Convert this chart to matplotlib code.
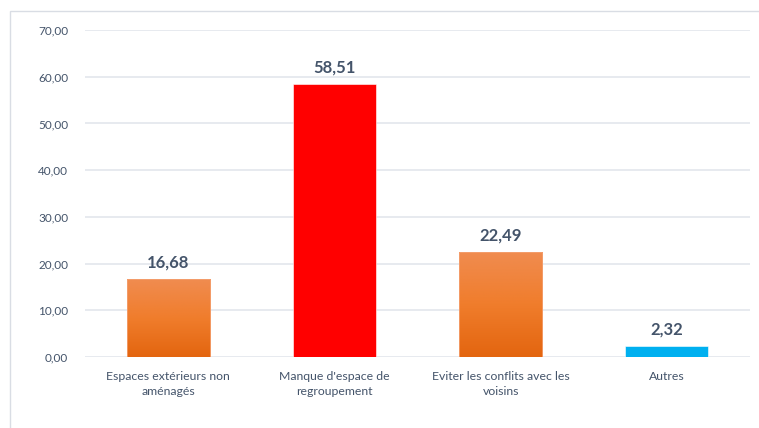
import numpy as np
import matplotlib
matplotlib.use("Agg")
import matplotlib.pyplot as plt
from matplotlib.colors import LinearSegmentedColormap
from matplotlib.patches import Rectangle

categories = ["Espaces extérieurs non\naménagés",
              "Manque d'espace de\nregroupement",
              "Eviter les conflits avec les\nvoisins",
              "Autres"]
values = [16.68, 58.51, 22.49, 2.32]
value_labels = ["16,68", "58,51", "22,49", "2,32"]
y_ticks = [0, 10, 20, 30, 40, 50, 60, 70]
y_tick_labels = ["0,00", "10,00", "20,00", "30,00", "40,00", "50,00", "60,00", "70,00"]

plt.rcParams['font.family'] = ['Lato', 'DejaVu Sans']
text_color = "#44546A"
grid_color = "#E3E6EC"

fig = plt.figure(figsize=(7.59, 4.28), dpi=100)
fig.patch.set_facecolor("white")

# chart frame
fig.add_artist(Rectangle((10 / 759, -0.05), 1.1, (428 - 11) / 428 + 0.05,
                         transform=fig.transFigure, fill=False,
                         edgecolor="#D9DDE4", linewidth=1.0))

ax = fig.add_axes([85 / 759, (428 - 357) / 428, (750 - 85) / 759, (357 - 30) / 428])
x = np.arange(len(categories))
width = 0.5

styles = ["grad", "#FF0000", "grad", "#00B0F0"]
orange = LinearSegmentedColormap.from_list("orange", ["#E3650F", "#F07D2C", "#F08C50"])
grad = np.linspace(0, 1, 256).reshape(-1, 1)

bars = ax.bar(x, values, width=width, zorder=3)
for bar, style in zip(bars, styles):
    if style == "grad":
        bar.set_facecolor("none")
        bar.set_edgecolor("#F4A070")
        bar.set_linewidth(0.6)
        x0, w, h = bar.get_x(), bar.get_width(), bar.get_height()
        im = ax.imshow(grad, cmap=orange, origin="lower", aspect="auto",
                       extent=(x0, x0 + w, 0, h), zorder=2.5)
        im.set_clip_path(bar)
    else:
        bar.set_facecolor(style)
        bar.set_edgecolor("#FFFFFF")
        bar.set_linewidth(0.4)

for xi, v, lbl in zip(x, values, value_labels):
    ax.annotate(lbl, (xi, v), xytext=(0, 6), textcoords="offset points",
                ha="center", va="bottom", fontsize=12, fontweight="bold",
                color=text_color)

ax.set_xlim(-0.5, 3.5)
ax.set_ylim(0, 70)
ax.set_yticks(y_ticks)
ax.set_yticklabels(y_tick_labels, fontsize=8.5, color=text_color)
ax.set_xticks(x)
ax.set_xticklabels(categories, fontsize=8.8, color=text_color, linespacing=1.45)
ax.tick_params(axis="both", length=0)
ax.tick_params(axis="y", pad=12)
ax.tick_params(axis="x", pad=10)
ax.yaxis.grid(True, color=grid_color, linewidth=1.2, zorder=0)
ax.set_axisbelow(True)
for s in ax.spines.values():
    s.set_visible(False)
ax.set_facecolor("none")

fig.savefig("out.png", dpi=100, facecolor="white")
